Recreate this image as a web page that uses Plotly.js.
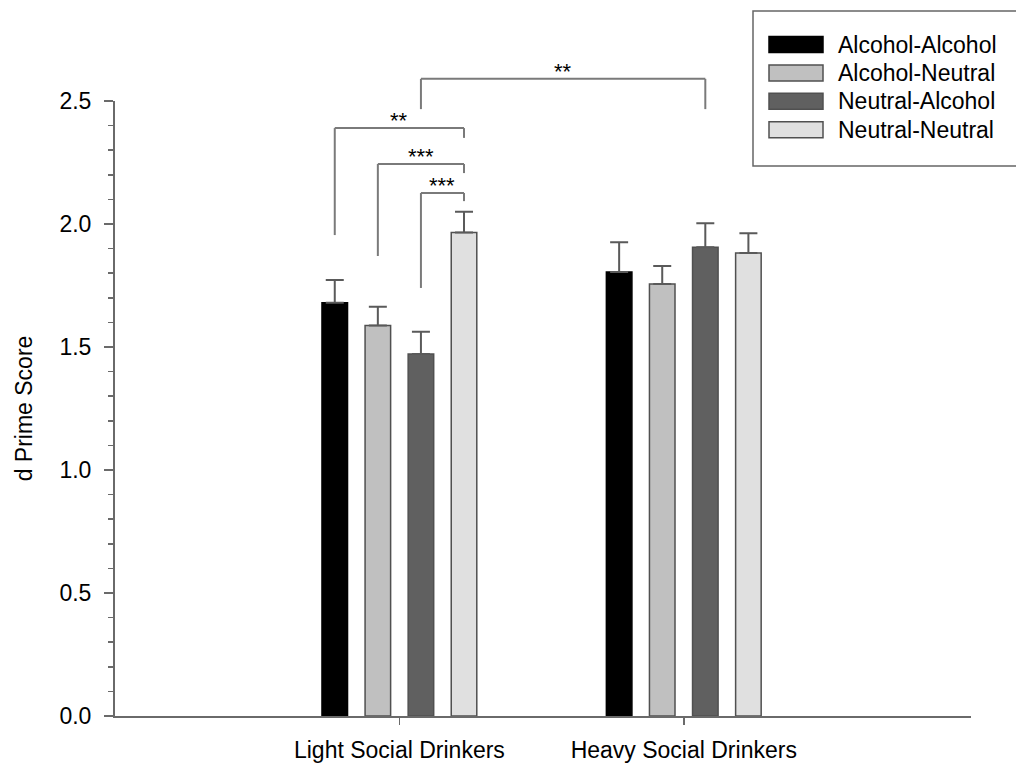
<!DOCTYPE html>
<html>
<head>
<meta charset="utf-8">
<script src="https://cdn.plot.ly/plotly-3.0.1.min.js"></script>
<style>html,body{margin:0;padding:0;background:#fff;}#chart{width:1016px;height:767px;}</style>
</head>
<body>
<div id="chart"></div>
<script>
// ---- data ----
const groups = ["Light Social Drinkers", "Heavy Social Drinkers"];
const seriesNames = ["Alcohol-Alcohol", "Alcohol-Neutral", "Neutral-Alcohol", "Neutral-Neutral"];
const alcoholAlcohol = [1.68, 1.805];
const alcoholNeutral = [1.587, 1.756];
const neutralAlcohol = [1.472, 1.905];
const neutralNeutral = [1.965, 1.882];
const errAlcoholAlcohol = [0.092, 0.121];
const errAlcoholNeutral = [0.077, 0.073];
const errNeutralAlcohol = [0.090, 0.098];
const errNeutralNeutral = [0.085, 0.080];
const yTicks = [0, 0.5, 1.0, 1.5, 2.0, 2.5];
// significance brackets
const bracketFrom = [[0, 2], [0, 0], [0, 1], [0, 2]];
const bracketTo = [[1, 2], [0, 3], [0, 3], [0, 3]];
const bracketTop = [2.59, 2.39, 2.244, 2.126];
const bracketLeftEnd = [2.467, 1.955, 1.87, 1.74];
const bracketRightEnd = [2.467, 2.35, 2.207, 2.093];
const bracketLabels = ["**", "**", "***", "***"];

// ---- styling ----
const FONT = "Liberation Sans, Arial, Helvetica, sans-serif";
const TXT = "#000000";
const colors = ["#000000", "#c0c0c0", "#606060", "#e0e0e0"];
const outlines = ["#000000", "#505050", "#505050", "#505050"];
const AXIS = "#6a6a6a";
const values = [alcoholAlcohol, alcoholNeutral, neutralAlcohol, neutralNeutral];
const errs = [errAlcoholAlcohol, errAlcoholNeutral, errNeutralAlcohol, errNeutralNeutral];

const bargap = 0.394, bargroupgap = 0.407;
const xRange = [-1, 2.01], yRange = [0, 2.5];
const W = 1016, H = 767;
const M = {l: 115, r: 45, t: 101, b: 51};
const plotW = W - M.l - M.r, plotH = H - M.t - M.b;

const traces = values.map((v, i) => ({
  type: "bar",
  name: seriesNames[i],
  x: groups,
  y: v,
  marker: {color: colors[i], line: {color: outlines[i], width: 1.5}},
  error_y: {type: "data", symmetric: false, array: errs[i], arrayminus: v.map(() => 0),
            color: "#5a5a5a", thickness: 2, width: 9},
  showlegend: false,
  hoverinfo: "x+y+name"
}));

// bar center in category units
const slot = (1 - bargap) / seriesNames.length;
function barX(g, s) { return g + (s - (seriesNames.length - 1) / 2) * slot; }
function xPaper(xv) { return (xv - xRange[0]) / (xRange[1] - xRange[0]); }
function yPaper(yv) { return (yv - yRange[0]) / (yRange[1] - yRange[0]); }
function pxX(px) { return (px - M.l) / plotW; }
function pxY(py) { return (H - M.b - py) / plotH; }

const shapes = [];
const annotations = [];
const BR = {color: "#7a7a7a", width: 2};
bracketLabels.forEach((lab, i) => {
  const xa = xPaper(barX(bracketFrom[i][0], bracketFrom[i][1]));
  const xb = xPaper(barX(bracketTo[i][0], bracketTo[i][1]));
  const yt = yPaper(bracketTop[i]);
  shapes.push({type: "line", xref: "paper", yref: "paper", x0: xa, x1: xa, y0: yPaper(bracketLeftEnd[i]), y1: yt, line: BR});
  shapes.push({type: "line", xref: "paper", yref: "paper", x0: xa, x1: xb, y0: yt, y1: yt, line: BR});
  shapes.push({type: "line", xref: "paper", yref: "paper", x0: xb, x1: xb, y0: yPaper(bracketRightEnd[i]), y1: yt, line: BR});
  annotations.push({xref: "paper", yref: "paper", x: (xa + xb) / 2, y: yt, yanchor: "bottom", xanchor: "center",
    text: lab, showarrow: false, yshift: -7, font: {family: FONT, size: 22, color: TXT}});
});

// legend box (drawn manually to match swatch size)
shapes.push({type: "rect", xref: "paper", yref: "paper", x0: pxX(753), x1: pxX(1030), y0: pxY(166), y1: pxY(11),
  line: {color: "#666666", width: 1.5}, fillcolor: "rgba(0,0,0,0)"});
seriesNames.forEach((n, i) => {
  const cy = 44.5 + i * 28.4;
  shapes.push({type: "rect", xref: "paper", yref: "paper", x0: pxX(769), x1: pxX(823), y0: pxY(cy + 8), y1: pxY(cy - 8),
    fillcolor: colors[i], line: {color: outlines[i], width: 1.5}});
  annotations.push({xref: "paper", yref: "paper", x: pxX(836), y: pxY(cy), xanchor: "left", yanchor: "middle",
    text: n, showarrow: false, font: {family: FONT, size: 23, color: TXT}});
});

const layout = {
  width: W, height: H,
  margin: M,
  paper_bgcolor: "#ffffff", plot_bgcolor: "#ffffff",
  font: {family: FONT, size: 23, color: TXT},
  barmode: "group", bargap: bargap, bargroupgap: bargroupgap,
  showlegend: false,
  xaxis: {
    type: "category", categoryorder: "array", categoryarray: groups, range: xRange,
    showline: true, linecolor: AXIS, linewidth: 2, showgrid: false, zeroline: false,
    ticks: "outside", ticklen: 7, tickwidth: 1.5, tickcolor: AXIS,
    tickfont: {family: FONT, size: 23, color: TXT}, ticklabelstandoff: 5
  },
  yaxis: {
    range: yRange, tickvals: yTicks, ticktext: yTicks.map(v => v.toFixed(1)),
    showline: true, linecolor: AXIS, linewidth: 2, showgrid: false, zeroline: false,
    ticks: "outside", ticklen: 9, tickwidth: 1.5, tickcolor: AXIS,
    minor: {dtick: 0.1, ticks: "outside", ticklen: 5, tickwidth: 1.5, tickcolor: AXIS, showgrid: false},
    tickfont: {family: FONT, size: 23, color: TXT}, ticklabelstandoff: 8,
    title: {text: "d Prime Score", font: {family: FONT, size: 23, color: TXT}, standoff: 20}
  },
  shapes: shapes,
  annotations: annotations
};

Plotly.newPlot("chart", traces, layout, {displayModeBar: false, staticPlot: true});
</script>
</body>
</html>
